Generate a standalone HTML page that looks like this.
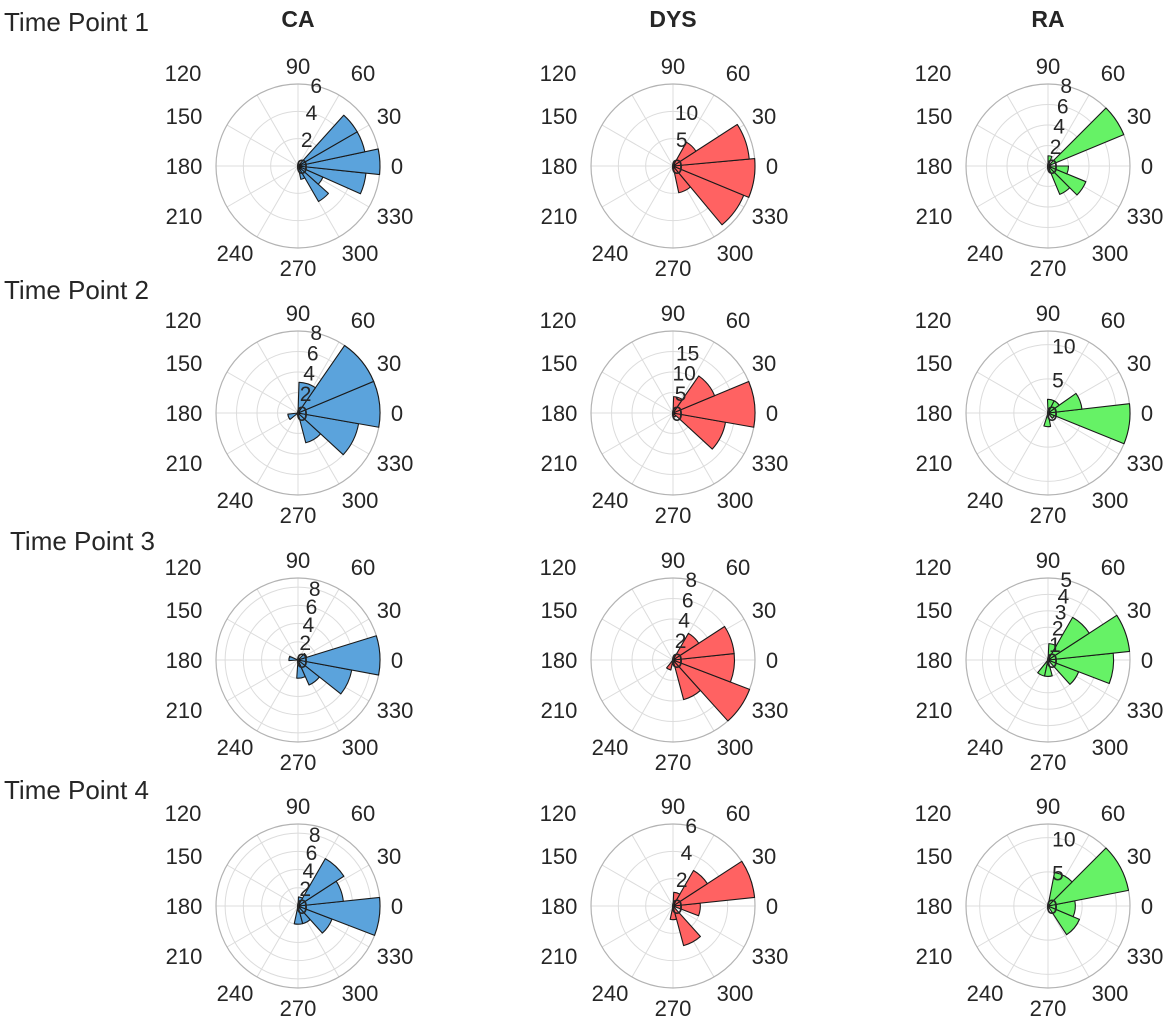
<!DOCTYPE html>
<html><head><meta charset="utf-8"><style>
body{margin:0;background:#fff;}
svg text{font-family:"Liberation Sans",Arial,sans-serif;fill:#262626;}
</style></head><body>
<svg id="fig" width="1169" height="1025" viewBox="0 0 1169 1025" xmlns="http://www.w3.org/2000/svg">
<text x="298" y="27" font-size="23" font-weight="bold" text-anchor="middle">CA</text>
<text x="673" y="27" font-size="23" font-weight="bold" text-anchor="middle">DYS</text>
<text x="1048" y="27" font-size="23" font-weight="bold" text-anchor="middle">RA</text>
<text x="4" y="31" font-size="26">Time Point 1</text>
<text x="4" y="299" font-size="26">Time Point 2</text>
<text x="10" y="550" font-size="26">Time Point 3</text>
<text x="4" y="799" font-size="26">Time Point 4</text>
</svg>
<script>
// Per-chart data (row-major: TP1 CA, DYS, RA; TP2 ...)
const binStartDeg = [-78, -77.9, -67.5, -173.5, -75.2, -107.5, -94, -129, -129, -102, -102, -57];
const binWidthDeg = [18, 27.7, 22.5, 32.7, 32.6, 28.5, 27.8, 27, 27, 27, 27, 34];
const countsCA1 = [1,3,2,5,6,5,5];
const countsDYS1 = [5,14,15,14,5];
const countsRA1 = [3,4,2,0,8,0,1];
const countsCA2 = [1,0,0,3,6,8,8,3];
const countsDYS2 = [1,13,20,11,4];
const countsRA2 = [2,0,1,12,5,2,2];
const countsCA3 = [2,3,6,9,1,0,0,0,0,1];
const countsDYS3 = [1,0,4,8,6,6,3];
const countsRA3 = [1,1,0,2,4,5,3,1];
const countsCA4 = [2,2,4,9,5,6,1];
const countsDYS4 = [1,3,0,2,6,3,1];
const countsRA4 = [5,4,12,5];
const rMax = [6,15,8, 8,20,12, 9,8,5, 9,6,12];
const rTicksA = [0,2,4,6];
const rTicksB = [0,5,10];
const rTicksC = [0,2,4,6,8];
const rTicksD = [0,5,10,15];
const rTicksE = [0,1,2,3,4,5];
const angleTickLabels = ['0','30','60','90','120','150','180','210','240','270','300','330'];

const allCounts = [countsCA1,countsDYS1,countsRA1,countsCA2,countsDYS2,countsRA2,countsCA3,countsDYS3,countsRA3,countsCA4,countsDYS4,countsRA4];
const allTicks = [rTicksA,rTicksB,rTicksC, rTicksC,rTicksD,rTicksB, rTicksC,rTicksC,rTicksE, rTicksC,rTicksA,rTicksB];
const groupNames = ['ca','dys','ra'];
const colors = ['#5ba3dc','#ff6262','#66f266'];
const colX = [298,673,1048];
const rowY = [166,413,660,906];
const R = 82;
// label layout offsets (text centre relative to chart centre), in angle-tick order
const labelDX = [99, 91, 65, 0, -115, -114, -114, -114, -63, 0, 62, 97];
const labelDY = [0, -50, -93, -100, -93, -50, 0, 50, 87, 102, 87, 50];
const NS = 'http://www.w3.org/2000/svg';
const svg = document.getElementById('fig');

function mk(tag, attrs, parent){
  const e = document.createElementNS(NS, tag);
  for (const k in attrs) e.setAttribute(k, attrs[k]);
  parent.appendChild(e);
  return e;
}

for (let i = 0; i < 12; i++) {
  const row = Math.floor(i/3), col = i%3;
  const cx = colX[col], cy = rowY[row];
  const rm = rMax[i];
  const rs = v => v / rm * R;
  const px = (r, a) => cx + r * Math.cos(a*Math.PI/180);
  const py = (r, a) => cy - r * Math.sin(a*Math.PI/180);
  const g = mk('g', {}, svg);
  
  
  for (let k = 0; k < 12; k++) {
    const a = k*30;
    const l = mk('line', {x1:cx, y1:cy, x2:px(R,a), y2:py(R,a), stroke:'#dcdcdc', 'stroke-width':1}, g);
    
    
  }
  const ticks = allTicks[i];
  ticks.forEach(t => {
    if (t <= 0 || t >= rm) return;
    const c = mk('circle', {cx:cx, cy:cy, r:rs(t), fill:'none', stroke:'#dcdcdc', 'stroke-width':1}, g);
    
    
  });
  const oc = mk('circle', {cx:cx, cy:cy, r:R, fill:'none', stroke:'#b3b3b3', 'stroke-width':1.2}, g);
  
  
  const counts = allCounts[i];
  counts.forEach((v, j) => {
    if (v <= 0) return;
    const a0 = binStartDeg[i] + j*binWidthDeg[i];
    const a1 = a0 + binWidthDeg[i];
    const r = rs(v);
    const d = 'M'+cx+','+cy+' L'+px(r,a0)+','+py(r,a0)+' A'+r+','+r+' 0 0 0 '+px(r,a1)+','+py(r,a1)+' Z';
    const p = mk('path', {d:d, fill:colors[col], stroke:'#1a1a1a', 'stroke-width':1.1, 'stroke-linejoin':'round'}, g);
    
    
  });
  angleTickLabels.forEach((lab, k) => {
    const t = mk('text', {x:cx+labelDX[k], y:cy+labelDY[k]+8, 'font-size':22, 'text-anchor':'middle'}, g);
    t.textContent = lab;
    
    
  });
  ticks.forEach(tv => {
    const r = rs(tv);
    const t = mk('text', {x:px(r,80)+4, y:py(r,80)+8, 'font-size':21, 'text-anchor':'middle'}, g);
    t.textContent = String(tv);
    
    
  });
}
</script>
</body></html>
